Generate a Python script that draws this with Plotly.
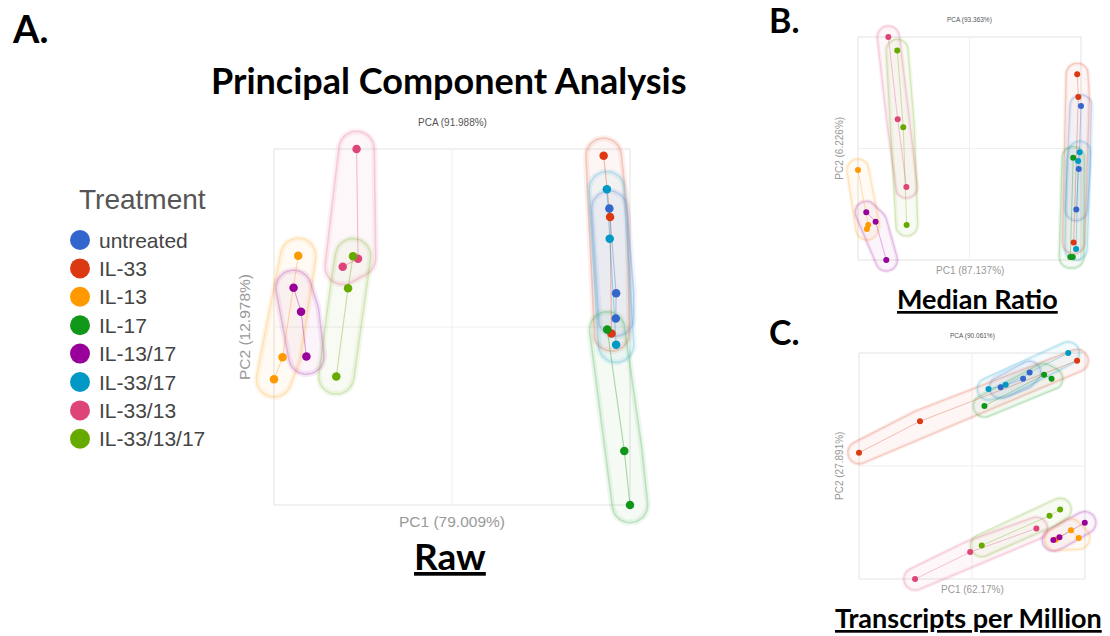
import numpy as np
import plotly.graph_objects as go

W, H = 1110, 636

# Treatment groups (three samples each) and their colours
treatments = ["untreated", "IL-33", "IL-13", "IL-17", "IL-13/17",
              "IL-33/17", "IL-33/13", "IL-33/13/17"]
colors = ["#3366cc", "#dc3912", "#ff9900", "#109618", "#990099",
          "#0099c6", "#dd4477", "#66aa00"]
reps = 3

# PC scores, scaled to the plotted range of each panel (0..1)
raw_pc1 = [0.942, 0.961, 0.960, 0.926, 0.944, 0.948, 0.068, 0.024, 0.000,
           0.936, 0.984, 1.000, 0.055, 0.076, 0.091, 0.935, 0.943, 0.961,
           0.232, 0.236, 0.193, 0.222, 0.208, 0.175]
raw_pc2 = [0.833, 0.595, 0.524, 0.981, 0.809, 0.482, 0.700, 0.415, 0.353,
           0.493, 0.152, 0.000, 0.610, 0.543, 0.417, 0.887, 0.748, 0.450,
           1.000, 0.692, 0.669, 0.699, 0.609, 0.361]

mr_pc1 = [1.000, 0.990, 0.979, 0.983, 0.988, 0.967, 0.000, 0.046, 0.040,
          0.965, 0.952, 0.963, 0.037, 0.079, 0.127, 0.994, 0.987, 0.978,
          0.136, 0.178, 0.217, 0.176, 0.203, 0.218]
mr_pc2 = [0.691, 0.408, 0.226, 0.833, 0.731, 0.078, 0.404, 0.157, 0.139,
          0.459, 0.013, 0.013, 0.214, 0.172, 0.000, 0.483, 0.444, 0.049,
          1.000, 0.631, 0.327, 0.940, 0.595, 0.157]

tpm_pc1 = [0.627, 0.726, 0.755, 0.000, 0.270, 0.965, 0.871, 0.938, 0.972,
           0.555, 0.819, 0.852, 0.860, 0.887, 0.999, 0.573, 0.649, 0.926,
           0.248, 0.492, 0.785, 0.543, 0.843, 0.890]
tpm_pc2 = [0.848, 0.886, 0.914, 0.559, 0.698, 0.966, 0.175, 0.216, 0.181,
           0.766, 0.904, 0.886, 0.173, 0.185, 0.249, 0.841, 0.859, 1.000,
           0.000, 0.119, 0.224, 0.148, 0.280, 0.308]

panel_titles = ["PCA (91.988%)", "PCA (93.363%)", "PCA (90.061%)"]
pc1_labels = ["PC1 (79.009%)", "PC1 (87.137%)", "PC1 (62.17%)"]
pc2_labels = ["PC2 (12.978%)", "PC2 (6.226%)", "PC2 (27.891%)"]
method_labels = ["Raw", "Median Ratio", "Transcripts per Million"]

# panel frame placement: left, top, side (px), marker size, label font sizes
panels = [
    dict(pc1=raw_pc1, pc2=raw_pc2, left=274, top=149, side=356, ms=8.5, lw=1.1,
         hw=(6, 1.6), fs=15.5, tfs=10),
    dict(pc1=mr_pc1, pc2=mr_pc2, left=858, top=37, side=223, ms=6, lw=0.9,
         hw=(4, 1.2), fs=10, tfs=6.5),
    dict(pc1=tpm_pc1, pc2=tpm_pc2, left=859, top=353, side=226, ms=6, lw=0.9,
         hw=(4, 1.2), fs=10, tfs=6.5),
]
PAD = 0.1      # axis padding around the frame, in frame units
HULL_R = 0.05  # rounded hull radius, in frame units


def rgba(hx, a):
    hx = hx.lstrip("#")
    r, g, b = int(hx[0:2], 16), int(hx[2:4], 16), int(hx[4:6], 16)
    return f"rgba({r},{g},{b},{a})"


def rounded_hull(xs, ys, r, n=40):
    """Convex hull of the points grown by a disc of radius r."""
    t = np.linspace(0, 2 * np.pi, n, endpoint=False)
    pts = np.concatenate([np.c_[x + r * np.cos(t), y + r * np.sin(t)]
                          for x, y in zip(xs, ys)])
    pts = sorted(map(tuple, pts))

    def cross(o, a, b):
        return (a[0] - o[0]) * (b[1] - o[1]) - (a[1] - o[1]) * (b[0] - o[0])

    lower, upper = [], []
    for p in pts:
        while len(lower) >= 2 and cross(lower[-2], lower[-1], p) <= 0:
            lower.pop()
        lower.append(p)
    for p in reversed(pts):
        while len(upper) >= 2 and cross(upper[-2], upper[-1], p) <= 0:
            upper.pop()
        upper.append(p)
    hull = lower[:-1] + upper[:-1] + [lower[0]]
    return [float(p[0]) for p in hull], [float(p[1]) for p in hull]


fig = go.Figure()
shapes = []
annotations = []


def px_x(x):
    return x / W


def px_y(y):
    return 1 - y / H


def note(text, x, y, font, **kw):
    d = dict(text=text, x=px_x(x), y=px_y(y), xref="paper", yref="paper",
             xanchor="center", yanchor="middle", showarrow=False, font=font)
    d.update(kw)
    annotations.append(d)


for k, pn in enumerate(panels):
    sfx = "" if k == 0 else str(k + 1)
    xa, ya = "x" + sfx, "y" + sfx
    L, T, S = pn["left"], pn["top"], pn["side"]
    fig.layout["xaxis" + sfx] = dict(
        domain=[px_x(L - PAD * S), px_x(L + S + PAD * S)],
        range=[-PAD, 1 + PAD], visible=False, anchor=ya)
    fig.layout["yaxis" + sfx] = dict(
        domain=[px_y(T + S + PAD * S), px_y(T - PAD * S)],
        range=[-PAD, 1 + PAD], visible=False, anchor=xa)

    # frame and centre grid lines
    shapes.append(dict(type="rect", xref=xa, yref=ya, x0=0, x1=1, y0=0, y1=1,
                       line=dict(color="#e3e3e3", width=1), layer="below"))
    shapes.append(dict(type="line", xref=xa, yref=ya, x0=0.5, x1=0.5, y0=0, y1=1,
                       line=dict(color="#efefef", width=1), layer="below"))
    shapes.append(dict(type="line", xref=xa, yref=ya, x0=0, x1=1, y0=0.5, y1=0.5,
                       line=dict(color="#efefef", width=1), layer="below"))

    pc1 = np.array(pn["pc1"], dtype=float)
    pc2 = np.array(pn["pc2"], dtype=float)
    groups = [(pc1[g * reps:(g + 1) * reps], pc2[g * reps:(g + 1) * reps])
              for g in range(len(treatments))]
    wide, thin = pn["hw"]
    for (gx, gy), col in zip(groups, colors):
        hx, hy = rounded_hull(gx, gy, HULL_R)
        # soft halo outline, then pale fill with a thin edge
        fig.add_trace(go.Scatter(
            x=hx, y=hy, mode="lines", line=dict(color=rgba(col, 0.08), width=wide),
            hoverinfo="skip", showlegend=False, xaxis=xa, yaxis=ya))
        fig.add_trace(go.Scatter(
            x=hx, y=hy, mode="lines", fill="toself", fillcolor=rgba(col, 0.045),
            line=dict(color=rgba(col, 0.2), width=thin), hoverinfo="skip",
            showlegend=False, xaxis=xa, yaxis=ya))
    for (gx, gy), col in zip(groups, colors):
        fig.add_trace(go.Scatter(
            x=gx.tolist(), y=gy.tolist(), mode="lines",
            line=dict(color=rgba(col, 0.35), width=pn["lw"]),
            hoverinfo="skip", showlegend=False, xaxis=xa, yaxis=ya))
    for (gx, gy), col, name in zip(groups, colors, treatments):
        fig.add_trace(go.Scatter(
            x=gx.tolist(), y=gy.tolist(), mode="markers", name=name,
            marker=dict(size=pn["ms"], color=col, line=dict(width=0)),
            showlegend=False, xaxis=xa, yaxis=ya))

    cx = L + S / 2
    note(panel_titles[k], cx, T - 27 * S / 356,
         dict(family="Liberation Sans", size=pn["tfs"], color="#555"))
    note(pc1_labels[k], cx, T + S + 16 * S / 356,
         dict(family="Liberation Sans", size=pn["fs"], color="#999"))
    note(pc2_labels[k], L - 30 * S / 356, T + S / 2,
         dict(family="Liberation Sans", size=pn["fs"], color="#999"), textangle=-90)

# headings
bold = dict(family="Lato", color="black", weight="bold")
note("A.", 30, 28, dict(size=38, **bold))
note("B.", 784, 19, dict(size=34, **bold))
note("C.", 784, 331, dict(size=34, **bold))
note("Principal Component Analysis", 449, 80, dict(size=36, **bold))
note(method_labels[0], 450, 555, dict(size=37, lineposition="under", **bold))
note(method_labels[1], 977, 299, dict(size=27, lineposition="under", **bold))
note(method_labels[2], 968, 617, dict(size=27, lineposition="under", **bold))

# legend: title, coloured dots and treatment names
leg_x, leg_y0, leg_dy = 80, 240, 28.4
fig.add_trace(go.Scatter(
    x=[leg_x] * len(treatments),
    y=[leg_y0 + i * leg_dy for i in range(len(treatments))],
    mode="markers", marker=dict(size=20, color=colors),
    hoverinfo="skip", showlegend=False, xaxis="x4", yaxis="y4"))
fig.layout["xaxis4"] = dict(domain=[0, 1], range=[0, W], visible=False, anchor="y4")
fig.layout["yaxis4"] = dict(domain=[0, 1], range=[H, 0], visible=False, anchor="x4")
note("Treatment", 142, 200, dict(family="Liberation Sans", size=28, color="#555"))
for i, name in enumerate(treatments):
    note(name, 97, leg_y0 + i * leg_dy,
         dict(family="Liberation Sans", size=21, color="#444"), xanchor="left")

fig.update_layout(
    width=W, height=H, margin=dict(l=0, r=0, t=0, b=0),
    paper_bgcolor="white", plot_bgcolor="rgba(0,0,0,0)",
    shapes=shapes, annotations=annotations, showlegend=False,
)

fig.write_html("out.html")
